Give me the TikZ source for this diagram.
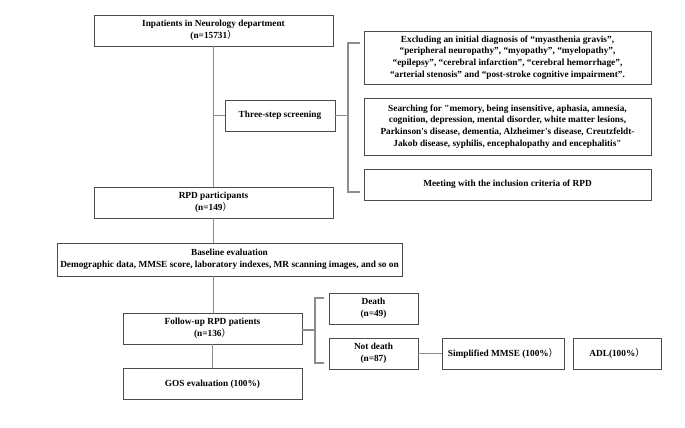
\documentclass[tikz,border=0pt]{standalone}
\usepackage{fontspec}
\setmainfont{Liberation Serif}
\newfontfamily\rawserif{Liberation Serif}
\newfontfamily\cjkfont{Noto Sans CJK SC}
\newcommand{\fwparen}{{\cjkfont\mdseries ）}}
\begin{document}
\begin{tikzpicture}[x=1pt,y=-1pt,
  box/.style={draw=black!70, line width=0.9pt, fill=white, inner sep=0pt, align=center,
    font=\bfseries\fontsize{9.3}{11.8}\selectfont},
  conn/.style={draw=black!45, line width=1.1pt}]
\useasboundingbox (0,0) rectangle (685,428);
% boxes (center x, center y), width, height
\node[box, minimum width=239pt, minimum height=31pt] (inp) at (213.5,30.5) {Inpatients in Neurology department\\(n=15731\fwparen};
\node[box, minimum width=110pt, minimum height=31pt] (three) at (280,115.5) {Three-step screening};
\node[box, minimum width=287pt, minimum height=53pt] (excl) at (507.5,57.5) {Excluding an initial diagnosis of “myasthenia gravis”,\\“peripheral neuropathy”, “myopathy”, “myelopathy”,\\“epilepsy”, “cerebral infarction”, “cerebral hemorrhage”,\\“arterial stenosis” and “post-stroke cognitive impairment”.};
\node[box, minimum width=287pt, minimum height=57pt, font=\rawserif\bfseries\fontsize{9.3}{11.8}\selectfont] (search) at (507.5,126.5) {Searching for "memory, being insensitive, aphasia, amnesia,\\cognition, depression, mental disorder, white matter lesions,\\Parkinson's disease, dementia, Alzheimer's disease, Creutzfeldt-\\Jakob disease, syphilis, encephalopathy and encephalitis"};
\node[box, minimum width=287pt, minimum height=31pt] (meet) at (507.5,184.5) {Meeting with the inclusion criteria of RPD};
\node[box, minimum width=239pt, minimum height=31pt] (rpd) at (213.5,202.5) {RPD participants\\(n=149\fwparen};
\node[box, minimum width=345pt, minimum height=33pt] (base) at (229.5,259.5) {Baseline evaluation\\Demographic data, MMSE score, laboratory indexes, MR scanning images, and so on};
\node[box, minimum width=179pt, minimum height=31pt] (follow) at (212.5,328.5) {Follow-up RPD patients\\(n=136\fwparen};
\node[box, minimum width=179pt, minimum height=31pt] (gos) at (212.5,384) {GOS evaluation (100\%)};
\node[box, minimum width=89pt, minimum height=31pt] (death) at (373.5,308.5) {Death\\(n=49)};
\node[box, minimum width=89pt, minimum height=31pt] (notdeath) at (373.5,353.5) {Not death\\(n=87)};
\node[box, minimum width=122pt, minimum height=31pt] (mmse) at (503,353.5) {Simplified MMSE (100\%\fwparen};
\node[box, minimum width=88pt, minimum height=31pt] (adl) at (617,353.5) {ADL(100\%\fwparen};
% main vertical connectors
\draw[conn] (inp.south) -- (rpd.north);
\draw[conn] (rpd.south) -- (rpd.south |- base.north);
\draw[conn] (rpd.south |- base.south) -- (rpd.south |- follow.north);
\draw[conn] (follow.south) -- (gos.north);
\coordinate (tj) at (213,115.5);
\draw[conn] (tj) -- (three.west);
% screening bracket
\coordinate (b1top) at (348,43);
\coordinate (b1bot) at (348,192);
\coordinate (b1mid) at (348,115.5);
\draw[conn] (three.east) -- (b1mid);
\draw[conn] (360,43) -- (b1top) -- (b1bot) -- (360,192);
% follow-up bracket
\coordinate (b2top) at (315,298);
\coordinate (b2bot) at (315,363);
\coordinate (b2mid) at (315,330);
\draw[conn] (follow.east |- b2mid) -- (b2mid);
\draw[conn] (324,298) -- (b2top) -- (b2bot) -- (324,363);
\draw[conn] (notdeath.east) -- (mmse.west);
\end{tikzpicture}
\end{document}
